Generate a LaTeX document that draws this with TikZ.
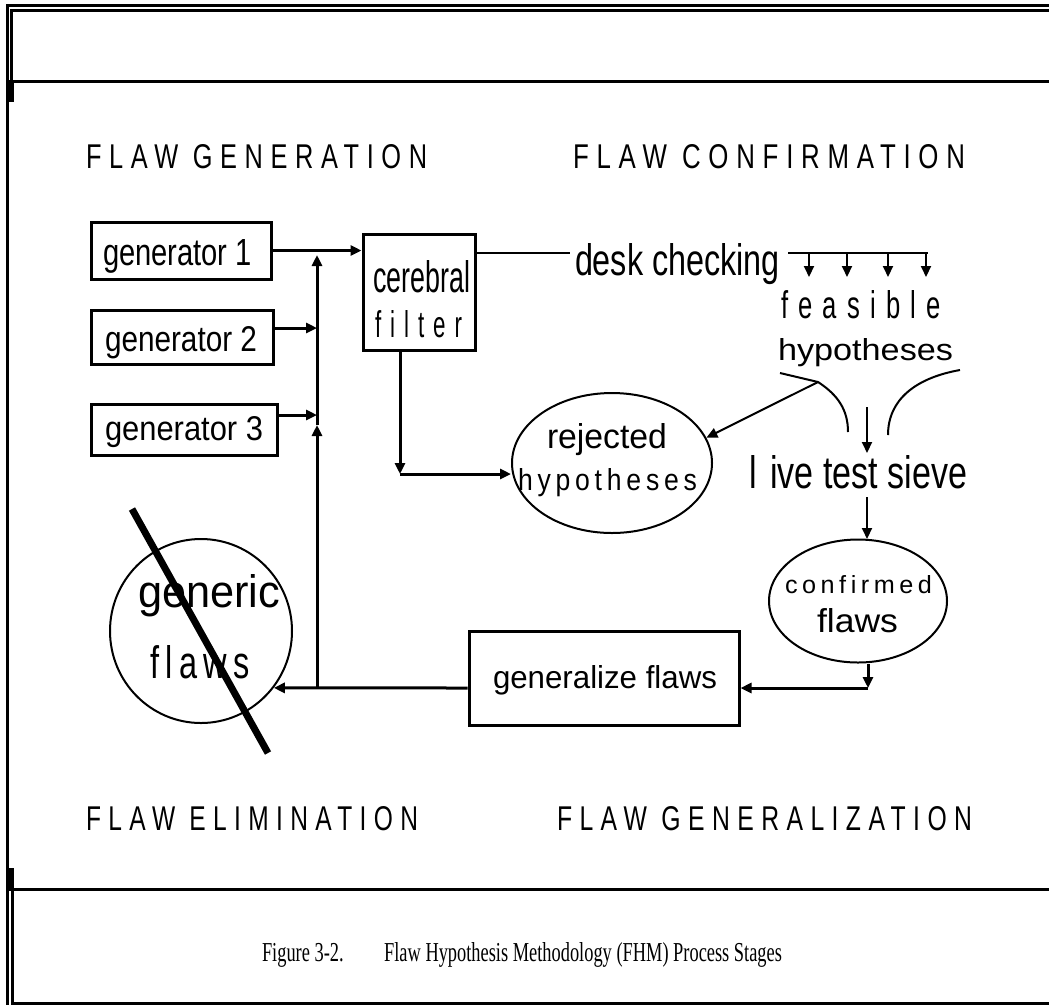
\documentclass[tikz,border=0pt]{standalone}
\usepackage{fontspec}
\setmainfont{Liberation Sans}
\newfontfamily\capfont{Liberation Serif}
\usetikzlibrary{arrows.meta,shapes.geometric,calc}
\newcommand{\fitt}[4][0]{\resizebox{#2pt}{#3pt}{\addfontfeature{LetterSpace=#1}#4}}
\begin{document}
\begin{tikzpicture}[x=1pt,y=-1pt,
  txt/.style={inner sep=0, outer sep=0, anchor=base west},
  bx/.style={draw, line width=3, inner sep=0, rectangle},
  ell/.style={draw, ellipse, line width=2, inner sep=0},
  arr/.style={line width=3, -{Triangle[length=11pt,width=10pt]}},
  thinl/.style={line width=2},
  tarr/.style={line width=2, -{Triangle[length=11pt,width=10pt]}},
]
\useasboundingbox (0,0) rectangle (1049,1005);
% frame
\fill (6,4) rectangle (1049,7);
\fill (6,4) rectangle (9,1005);
\fill (10,9) rectangle (1049,12);
\fill (10,9) rectangle (13,82);
\fill (10,80) rectangle (1049,83);
\fill (6,80) rectangle (14,102);
\fill (6,868) rectangle (14,891);
\fill (10,888) rectangle (1049,891);
\fill (11,888) rectangle (14,1005);
\fill (11,1002) rectangle (1049,1005);

% stage labels
\node[txt] (lg) at (86,168) {\fitt[30]{341}{24}{FLAW GENERATION}};
\node[txt] (lc) at (573,168) {\fitt[30]{392}{24}{FLAW CONFIRMATION}};
\node[txt] (le) at (86,830) {\fitt[30]{332}{24}{FLAW ELIMINATION}};
\node[txt] (lz) at (557,830) {\fitt[30]{415}{24}{FLAW GENERALIZATION}};

% boxes
\node[bx, minimum width=180, minimum height=57] (g1) at (181,250.5) {};
\node[bx, minimum width=182, minimum height=54] (g2) at (182,337) {};
\node[bx, minimum width=186, minimum height=51] (g3) at (184,429.5) {};
\node[bx, minimum width=112, minimum height=116] (cf) at (419,292) {};
\node[bx, minimum width=270, minimum height=94] (gz) at (604,678) {};
\node[txt] (g1t) at (103,265) {\fitt{149}{26}{generator 1}};
\node[txt] (g2t) at (105,351) {\fitt{152}{25}{generator 2}};
\node[txt] (g3t) at (105,440) {\fitt{158}{24}{generator 3}};
\node[txt] (cft1) at (373,292) {\fitt{97}{32}{cerebral}};
\node[txt] (cft2) at (375,337) {\fitt[40]{87}{27}{filter}};
\node[txt] (gzt) at (493,688) {\fitt{224}{23}{generalize flaws}};

% ellipses
\node[ell, minimum width=200, minimum height=140] (rej) at (612,463) {};
\node[ell, minimum width=178, minimum height=123] (conf) at (858,601) {};
\node[ell, minimum width=182, minimum height=184] (gf) at (201,631) {};
\node[txt] (rt1) at (547,448) {\fitt{120}{25}{rejected}};
\node[txt] (rt2) at (518,490) {\fitt[18]{179}{22}{hypotheses}};
\node[txt] (ct1) at (785,593) {\fitt[18]{147}{18}{confirmed}};
\node[txt] (ct2) at (817,632) {\fitt{81}{24}{flaws}};
\node[txt] (gt1) at (138,607) {\fitt{142}{33}{generic}};
\node[txt] (gt2) at (150,678) {\fitt[20]{100}{33}{f\kern2pt laws}};

% other texts
\node[txt] (dc) at (575,275) {\fitt{205}{32}{desk checking}};
\node[txt] (fs1) at (781,318) {\fitt[40]{160}{28}{feasible}};
\node[txt] (fs2) at (778,360) {\fitt{175}{22}{hypotheses}};
\node[txt] (lts) at (749,488) {\fitt{218}{33}{l\kern4pt ive test sieve}};

% bus and generator arrows
\coordinate (bB) at (317,688);
\coordinate (bm) at (317,425);
\coordinate (bt) at (317,255);
\coordinate (b2) at (317,328);
\coordinate (b3) at (317,415);
\draw[arr] (g1.east) -- (cf.west |- g1.east);
\draw[arr] (g2.east |- b2) -- (b2);
\draw[arr] (g3.east |- b3) -- (b3);
\draw[arr] (bB) -- (bm);
\draw[arr] (bm) -- (bt);

% cerebral filter -> rejected
\coordinate (r1) at (400,474);
\draw[arr] (cf.south -| r1) -- (r1);
\draw[arr] (r1) -- (rej.west |- r1);

% desk checking
\coordinate (d0) at (570,253);
\coordinate (d1) at (788,253);
\coordinate (d2) at (928,253);
\draw[line width=2.5] (cf.east |- d0) -- (d0);
\draw[line width=2.5] (d1) -- (d2);
\foreach \xx in {809,847,888,926} {
  \draw[tarr] (\xx,253) -- (\xx,277);
}

% feasible hypotheses split
\coordinate (h0) at (780,373);
\coordinate (h1) at (818,382);
\draw[thinl] (h0) -- (h1) .. controls (838,395) and (848,410) .. (848,432);
\draw[tarr] (h1) -- (rej.15);
\draw[thinl] (960,370) .. controls (915,378) and (888,400) .. (888,435);
\coordinate (s0) at (867,407);
\coordinate (s1) at (867,453);
\draw[tarr] (s0) -- (s1);
\coordinate (s2) at (867,497);
\coordinate (s3) at (867,539);
\draw[tarr] (s2) -- (s3);

% confirmed -> generalize -> generic
\coordinate (c1) at (868,688);
\draw[arr] (conf.south -| c1) -- (c1);
\draw[arr] (c1) -- (gz.east |- c1);
\draw[arr] (gz.west |- bB) -- (gf.-38);

% slash
\draw[line width=7] (132,509) -- (268,753);

% caption
\node[txt] (cap) at (262,961) {\resizebox{520pt}{19pt}{\capfont Figure 3-2.\hspace{2.2em}Flaw Hypothesis Methodology (FHM) Process Stages}};
\end{tikzpicture}
\end{document}
